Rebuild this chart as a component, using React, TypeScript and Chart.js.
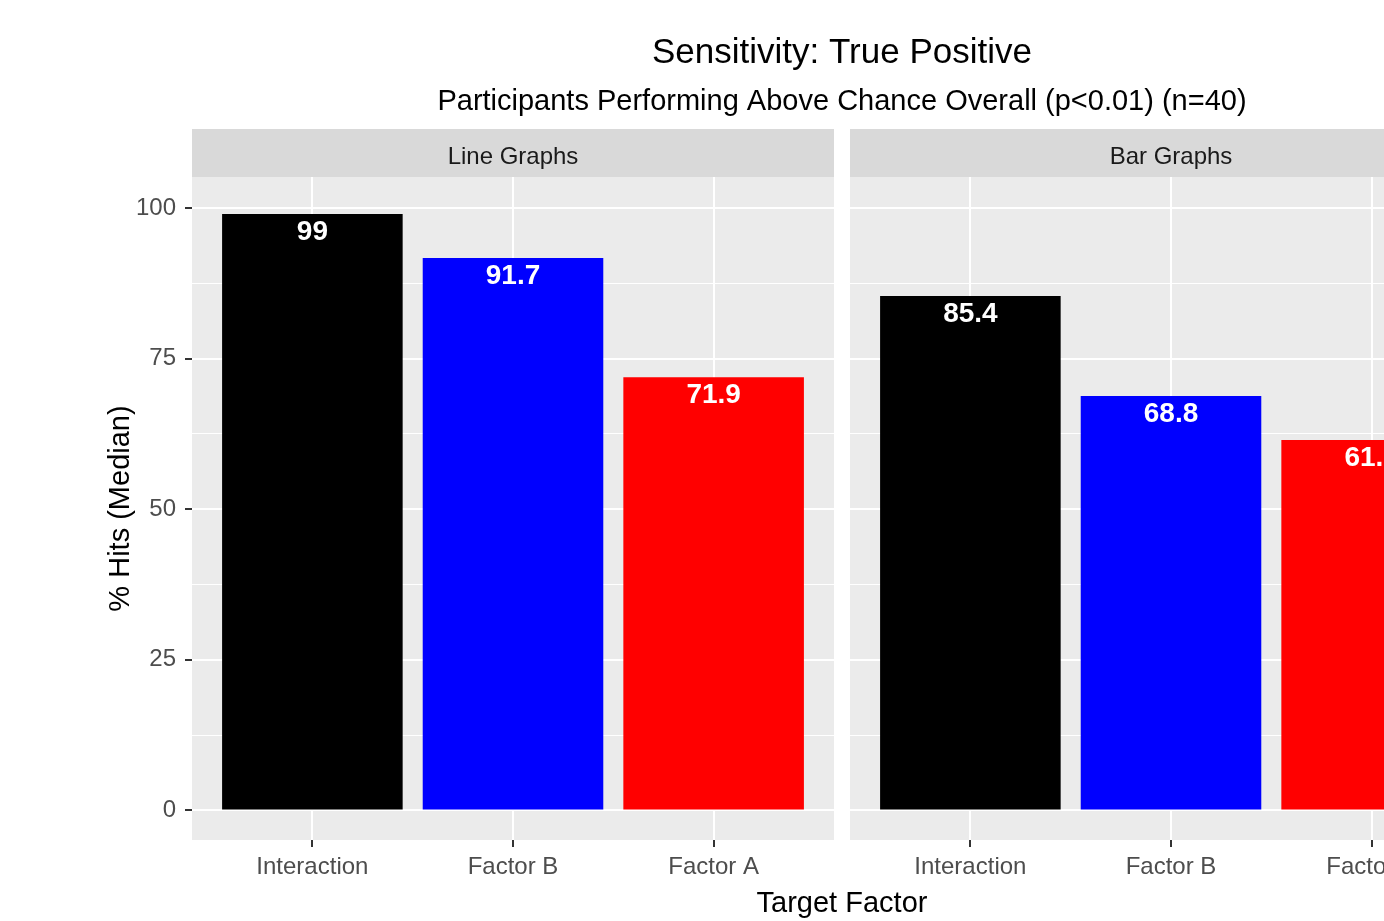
import React, { useEffect, useRef } from 'react';
import { Chart, registerables } from 'chart.js';

Chart.register(...registerables);

// ---------- data ----------
const chartTitle = 'Sensitivity: True Positive';
const chartSubtitle = 'Participants Performing Above Chance Overall (p<0.01) (n=40)';
const xAxisTitle = 'Target Factor';
const yAxisTitle = '% Hits (Median)';
const facetLabels = ['Line Graphs', 'Bar Graphs'];
const categories = ['Interaction', 'Factor B', 'Factor A'];
const lineGraphValues = [99, 91.7, 71.9];
const barGraphValues = [85.4, 68.8, 61.5];
const barColors = ['#000000', '#0000FF', '#FF0000'];
const yMajorTicks = [0, 25, 50, 75, 100];
const yMinorTicks = [12.5, 37.5, 62.5, 87.5];
const yLimits = [-4.9, 105.15];

// ---------- layout / style ----------
const FONT = "'Liberation Sans', Arial, Helvetica, sans-serif";
const W = 1384;
const H = 921;
const PANEL_LEFT = 192;
const PANEL_RIGHT = 834;
const PANEL_TOP = 177;
const PANEL_BOTTOM = 840;
const GAP = 16;
const STRIP_H = 48;
const B_CANVAS_LEFT = 842;
const B_CANVAS_W = 650;

Chart.defaults.font.family = FONT;

const facetPanelPlugin = {
  id: 'facetPanel',
  beforeDraw(chart: any, _args: any, opts: any) {
    const { ctx, chartArea } = chart;
    const { left, right, top, bottom } = chartArea;
    ctx.save();
    ctx.fillStyle = '#EBEBEB';
    ctx.fillRect(left, top, right - left, bottom - top);
    ctx.fillStyle = '#D9D9D9';
    ctx.fillRect(left, top - STRIP_H, right - left, STRIP_H);
    ctx.fillStyle = '#1A1A1A';
    ctx.font = `24px ${FONT}`;
    ctx.textAlign = 'center';
    ctx.textBaseline = 'alphabetic';
    ctx.fillText(opts.text, (left + right) / 2, top - 13.5);
    ctx.restore();
  },
};

const valueLabelPlugin = {
  id: 'valueLabels',
  afterDatasetsDraw(chart: any) {
    const { ctx } = chart;
    const meta = chart.getDatasetMeta(0);
    const ds = chart.data.datasets[0];
    ctx.save();
    ctx.fillStyle = '#FFFFFF';
    ctx.font = `bold 28px ${FONT}`;
    ctx.textAlign = 'center';
    ctx.textBaseline = 'alphabetic';
    meta.data.forEach((bar: any, i: number) => {
      ctx.fillText(String(ds.data[i].y), bar.x, bar.y + 26);
    });
    ctx.restore();
  },
};

const figureTextPlugin = {
  id: 'figureText',
  afterDraw(chart: any) {
    const { ctx, chartArea } = chart;
    const w = chartArea.right - chartArea.left;
    const cx = chartArea.left + (2 * w + GAP) / 2;
    ctx.save();
    ctx.fillStyle = '#000000';
    ctx.textAlign = 'center';
    ctx.textBaseline = 'alphabetic';
    ctx.font = `35px ${FONT}`;
    ctx.fillText(chartTitle, cx, 63);
    ctx.font = `29px ${FONT}`;
    ctx.fillText(chartSubtitle, cx, 110);
    ctx.font = `29px ${FONT}`;
    ctx.fillText(xAxisTitle, cx, 911.5);
    ctx.restore();
  },
};

function makeConfig(values: number[], facet: string, isFirst: boolean): any {
  const isMajor = (v: number) => yMajorTicks.includes(v);
  return {
    type: 'bar',
    data: {
      datasets: [
        {
          data: values.map((v, i) => ({ x: i, y: v })),
          backgroundColor: barColors,
          borderWidth: 0,
          categoryPercentage: 1,
          barPercentage: 0.9,
        },
      ],
    },
    options: {
      responsive: false,
      animation: false,
      events: [],
      layout: {
        padding: isFirst
          ? { left: 0, top: PANEL_TOP, right: W - PANEL_RIGHT, bottom: 0 }
          : { left: PANEL_RIGHT + GAP - B_CANVAS_LEFT, top: PANEL_TOP, right: 0, bottom: 0 },
      },
      plugins: {
        legend: { display: false },
        tooltip: { enabled: false },
        facetPanel: { text: facet },
      },
      scales: {
        x: {
          type: 'linear',
          offset: false,
          min: -0.6,
          max: categories.length - 1 + 0.6,
          afterBuildTicks: (axis: any) => {
            axis.ticks = categories.map((_, i) => ({ value: i }));
          },
          afterFit: (axis: any) => {
            axis.height = H - PANEL_BOTTOM;
          },
          border: { display: false },
          grid: {
            offset: false,
            color: '#FFFFFF',
            lineWidth: 2,
            drawTicks: true,
            tickLength: 7,
            tickColor: '#333333',
            tickWidth: 2,
          },
          ticks: {
            autoSkip: false,
            maxRotation: 0,
            padding: 6,
            color: '#4D4D4D',
            font: { size: 24, family: FONT },
            callback: (v: number) => categories[v],
          },
        },
        y: {
          type: 'linear',
          min: yLimits[0],
          max: yLimits[1],
          afterBuildTicks: (axis: any) => {
            axis.ticks = [...yMajorTicks, ...yMinorTicks]
              .sort((a, b) => a - b)
              .map((v) => ({ value: v }));
          },
          afterFit: (axis: any) => {
            axis.width = isFirst ? PANEL_LEFT : 0;
          },
          border: { display: false },
          grid: {
            color: '#FFFFFF',
            lineWidth: (c: any) => (c.tick && isMajor(c.tick.value) ? 2 : 1),
            drawTicks: isFirst,
            tickLength: 7,
            tickWidth: 2,
            tickColor: (c: any) => (c.tick && isMajor(c.tick.value) ? '#333333' : 'rgba(0,0,0,0)'),
          },
          ticks: {
            display: isFirst,
            padding: 9,
            color: '#4D4D4D',
            font: { size: 24, family: FONT },
            callback: (v: number) => (isMajor(v) ? String(v) : ''),
          },
          title: {
            display: isFirst,
            text: yAxisTitle,
            color: '#000000',
            font: { size: 29, family: FONT },
            padding: { top: 104, bottom: 0 },
          },
        },
      },
    },
    plugins: isFirst
      ? [facetPanelPlugin, valueLabelPlugin, figureTextPlugin]
      : [facetPanelPlugin, valueLabelPlugin],
  };
}

export default function App() {
  const refA = useRef<HTMLCanvasElement | null>(null);
  const refB = useRef<HTMLCanvasElement | null>(null);

  useEffect(() => {
    if (!refA.current || !refB.current) return;
    const a = new Chart(refA.current, makeConfig(lineGraphValues, facetLabels[0], true));
    const b = new Chart(refB.current, makeConfig(barGraphValues, facetLabels[1], false));
    return () => {
      a.destroy();
      b.destroy();
    };
  }, []);

  return (
    <div
      style={{
        position: 'absolute',
        left: 0,
        top: 0,
        width: W,
        height: H,
        overflow: 'hidden',
        background: '#FFFFFF',
      }}
    >
      <canvas ref={refA} width={W} height={H} style={{ position: 'absolute', left: 0, top: 0 }} />
      <canvas
        ref={refB}
        width={B_CANVAS_W}
        height={H}
        style={{ position: 'absolute', left: B_CANVAS_LEFT, top: 0 }}
      />
    </div>
  );
}
